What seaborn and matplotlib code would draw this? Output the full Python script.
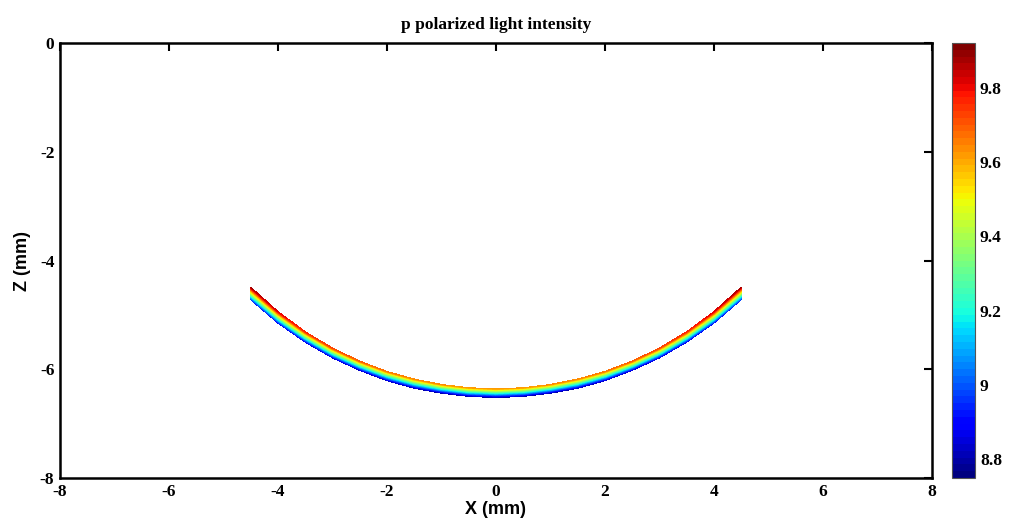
import seaborn as sns
import matplotlib.pyplot as plt
import numpy as np

# DATA
# x positions along the lens surface (mm)
x_mm = [-4.5, -4.0, -3.5, -3.0, -2.5, -2.0, -1.5, -1.0, -0.5, 0.0,
        0.5, 1.0, 1.5, 2.0, 2.5, 3.0, 3.5, 4.0, 4.5]
# upper and lower edge of the illuminated band (mm)
z_top = [-4.49, -4.94, -5.31, -5.61, -5.85, -6.04, -6.18, -6.28, -6.34, -6.36,
         -6.34, -6.28, -6.18, -6.04, -5.85, -5.61, -5.31, -4.94, -4.49]
z_bottom = [-4.72, -5.15, -5.50, -5.79, -6.02, -6.21, -6.35, -6.44, -6.50, -6.52,
            -6.50, -6.44, -6.35, -6.21, -6.02, -5.79, -5.50, -5.15, -4.72]
# intensity on the upper and lower edge
i_top = [9.87, 9.81, 9.76, 9.72, 9.69, 9.66, 9.64, 9.63, 9.62, 9.62,
         9.62, 9.63, 9.64, 9.66, 9.69, 9.72, 9.76, 9.81, 9.87]
i_bottom = [8.92, 8.88, 8.85, 8.83, 8.81, 8.80, 8.79, 8.78, 8.78, 8.78,
            8.78, 8.78, 8.79, 8.80, 8.81, 8.83, 8.85, 8.88, 8.92]

c_min, c_max = 8.75, 9.92
cbar_ticks = [8.8, 9.0, 9.2, 9.4, 9.6, 9.8]
cbar_labels = ['8.8', '9', '9.2', '9.4', '9.6', '9.8']

# VISUALIZATION
sns.set_theme(style='white')
plt.rcParams['font.family'] = ['Liberation Serif', 'DejaVu Serif']
plt.rcParams['font.weight'] = 'bold'
plt.rcParams['axes.unicode_minus'] = False
plt.rcParams['text.color'] = 'black'
plt.rcParams['axes.labelcolor'] = 'black'

fig = plt.figure(figsize=(10.11, 5.31), dpi=100)
ax = fig.add_axes([0.0593, 0.0998, 0.8625, 0.8192])
cax = fig.add_axes([0.9417, 0.0998, 0.0228, 0.8192])

cmap = plt.get_cmap('jet', 64)

X = np.array([x_mm, x_mm])
Z = np.array([z_top, z_bottom])
C = np.array([i_top, i_bottom])
levels = np.linspace(c_min, c_max, 65)
band = ax.contourf(X, Z, C, levels=levels, cmap=cmap, vmin=c_min, vmax=c_max,
                   antialiased=False)

ax.set_xlim(-8, 8)
ax.set_ylim(-8, 0)
ax.set_xticks(range(-8, 9, 2))
ax.set_yticks(range(-8, 1, 2))
ax.tick_params(direction='in', top=True, right=True, length=6, width=1.5,
               labelsize=12.5, pad=4, colors='black')
for s in ax.spines.values():
    s.set_linewidth(1.8)
    s.set_color('black')

ax.set_xlabel('X (mm)', family='Liberation Sans', fontweight='bold', fontsize=13, labelpad=1)
ax.set_ylabel('Z (mm)', family='Liberation Sans', fontweight='bold', fontsize=13, labelpad=6)
ax.set_title('p polarized light intensity', fontweight='bold', fontsize=12.5, pad=10)

sm = plt.cm.ScalarMappable(cmap=cmap, norm=plt.Normalize(c_min, c_max))
cbar = fig.colorbar(sm, cax=cax)
cbar.set_ticks(cbar_ticks)
cbar.set_ticklabels(cbar_labels)
cax.tick_params(direction='in', left=True, right=True, length=3, width=1,
                labelsize=12.5, colors='black')
cbar.outline.set_linewidth(0.8)
cbar.outline.set_edgecolor('#555555')

fig.savefig('out.png', dpi=100)
